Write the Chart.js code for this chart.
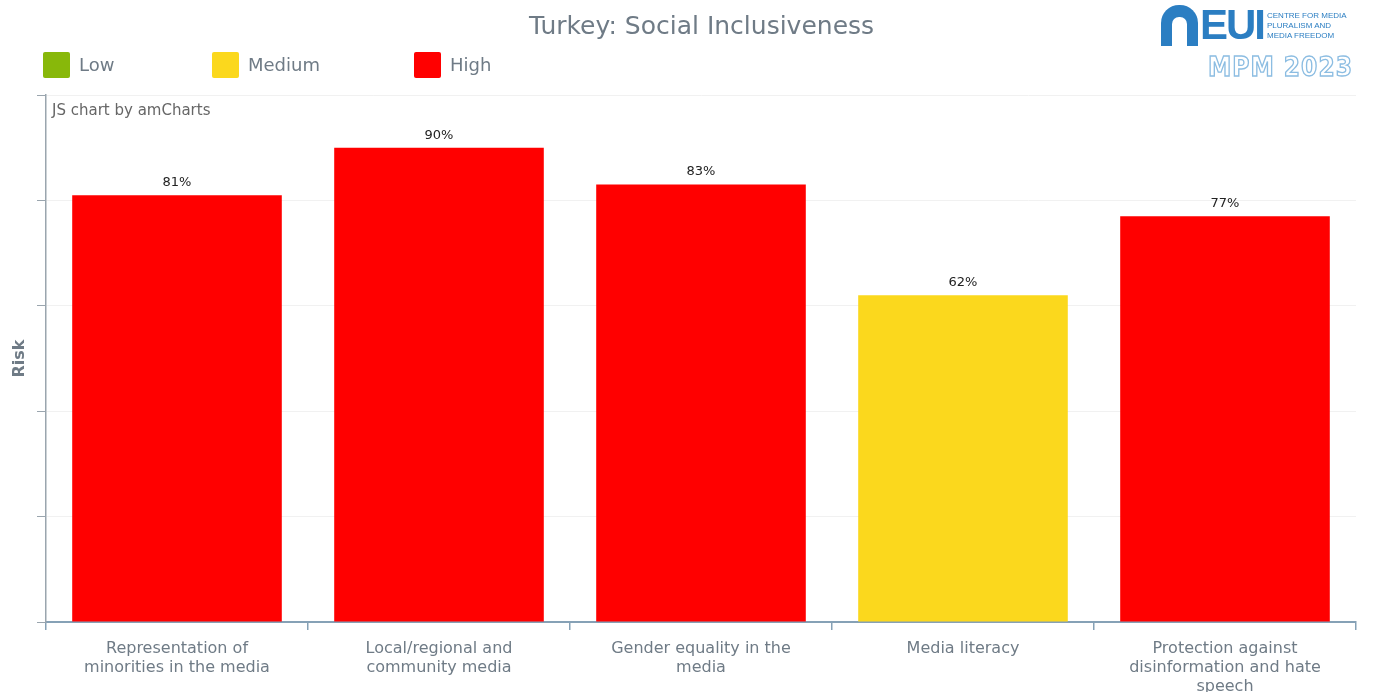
<!DOCTYPE html>
<html lang="en">
<head>
    <meta charset="UTF-8">
    <title>Turkey: Social Inclusiveness</title>
    <script src="https://cdn.jsdelivr.net/npm/chart.js"></script>
    <style>
        body {
            margin: 0;
            width: 1373px;
            height: 692px;
            background: #ffffff;
            font-family: "DejaVu Sans", Verdana, sans-serif;
            position: relative;
            overflow: hidden;
        }

        /* Title */
        .title {
            position: absolute;
            top: 11px;
            left: 0;
            width: 1403px;
            text-align: center;
            font-size: 25px;
            color: #6f7b86;
        }

        /* Legend */
        .legend {
            position: absolute;
            top: 52px;
            left: 43px;
        }
        .legend-item {
            position: absolute;
            top: 0;
            white-space: nowrap;
            font-size: 18px;
            color: #6f7b86;
            line-height: 26px;
        }
        .legend-item span.box {
            display: inline-block;
            width: 27px;
            height: 26px;
            border-radius: 2px;
            vertical-align: top;
            margin-right: 9px;
        }

        /* Logo */
        .logo { position: absolute; top: 0; left: 1158px; width: 215px; height: 90px; white-space: nowrap; }
        .arch {
            position: absolute; left: 3px; top: 5px;
            width: 37px; height: 41px;
            background: #2b7ec2;
            border-radius: 18px 18px 0 0;
        }
        .arch::after {
            content: ""; position: absolute; left: 11px; top: 12px;
            width: 15px; height: 29px; background: #fff;
            border-radius: 7px 7px 0 0;
        }
        .eui {
            position: absolute; left: 42px; top: 1px;
            font: bold 42px "Liberation Sans Narrow", "Liberation Sans", sans-serif;
            color: #2b7ec2; letter-spacing: -2px;
        }
        .cmpf {
            position: absolute; left: 109px; top: 11px;
            font: 8px "Liberation Sans Narrow", "Liberation Sans", sans-serif;
            color: #2b7ec2; line-height: 10px;
        }
        .mpm {
            position: absolute; left: 50px; top: 52px;
            font: bold 26px "DejaVu Sans Condensed", "DejaVu Sans", sans-serif;
            color: #ffffff;
            -webkit-text-stroke: 1.3px #8cbde2;
            letter-spacing: 1px;
        }

        .credit {
            position: absolute; left: 52px; top: 101px;
            font-size: 15px; color: #666;
        }

        .chart-container {
            position: absolute;
            left: 0; top: 0;
            width: 1373px; height: 692px;
        }
    </style>
</head>
<body>
    <div class="chart-container">
        <canvas id="riskChart" width="1373" height="692"></canvas>
    </div>

    <div class="title">Turkey: Social Inclusiveness</div>

    <div class="legend" id="legend"></div>

    <div class="logo">
        <div class="arch"></div>
        <div class="eui">EUI</div>
        <div class="cmpf">CENTRE FOR MEDIA<br>PLURALISM AND<br>MEDIA FREEDOM</div>
        <div class="mpm">MPM 2023</div>
    </div>

    <div class="credit">JS chart by amCharts</div>

    <script>
        const categories = [
            ["Representation of", "minorities in the media"],
            ["Local/regional and", "community media"],
            ["Gender equality in the", "media"],
            ["Media literacy"],
            ["Protection against", "disinformation and hate", "speech"]
        ];
        const riskValues = [81, 90, 83, 62, 77];
        const riskLevels = ["High", "High", "High", "Medium", "High"];

        const legendNames = ["Low", "Medium", "High"];
        const legendColors = ["#88b80a", "#fbd81d", "#ff0000"];
        const legendOffsets = [0, 169, 371];

        // legend boxes
        const legendEl = document.getElementById("legend");
        legendNames.forEach((name, i) => {
            const item = document.createElement("div");
            item.className = "legend-item";
            item.style.left = legendOffsets[i] + "px";
            item.innerHTML = `<span class="box" style="background:${legendColors[i]}"></span>${name}`;
            legendEl.appendChild(item);
        });

        const barColors = riskLevels.map(l => legendColors[legendNames.indexOf(l)]);

        // percent labels above each bar
        const valueLabels = {
            id: "valueLabels",
            afterDatasetsDraw(chart) {
                const ctx = chart.ctx;
                const meta = chart.getDatasetMeta(0);
                ctx.save();
                ctx.font = "13px 'DejaVu Sans', sans-serif";
                ctx.fillStyle = "#222";
                ctx.textAlign = "center";
                ctx.textBaseline = "bottom";
                meta.data.forEach((bar, i) => {
                    ctx.fillText(riskValues[i] + "%", bar.x, bar.y - 6);
                });
                ctx.restore();
            }
        };

        const ctx = document.getElementById("riskChart").getContext("2d");
        new Chart(ctx, {
            type: "bar",
            data: {
                labels: categories,
                datasets: [{
                    data: riskValues,
                    backgroundColor: barColors,
                    borderWidth: 0,
                    barPercentage: 0.8,
                    categoryPercentage: 1.0
                }]
            },
            options: {
                responsive: false,
                animation: false,
                devicePixelRatio: 1,
                layout: { padding: { left: 0, top: 95, right: 17, bottom: 0 } },
                plugins: {
                    legend: { display: false },
                    tooltip: { enabled: false }
                },
                scales: {
                    x: {
                        afterFit: s => { s.height = 70; },
                        border: { color: "#86a1b6", width: 2 },
                        grid: {
                            drawOnChartArea: false,
                            tickLength: 8,
                            color: "#86a1b6",
                            lineWidth: 1.5
                        },
                        ticks: {
                            color: "#6f7b86",
                            font: { family: "'DejaVu Sans', sans-serif", size: 16, lineHeight: 1.2 },
                            maxRotation: 0,
                            autoSkip: false,
                            padding: 9
                        }
                    },
                    y: {
                        min: 0,
                        max: 100,
                        afterFit: s => { s.width = 46; },
                        border: { color: "#9aa5ae", width: 1.5 },
                        grid: {
                            color: "#f1f1f1",
                            tickLength: 9,
                            tickColor: "#9aa5ae"
                        },
                        ticks: {
                            stepSize: 20,
                            display: false
                        },
                        title: {
                            display: true,
                            text: "Risk",
                            color: "#6f7b86",
                            font: { family: "'DejaVu Sans', sans-serif", size: 16, weight: "bold" },
                            padding: { top: 10, bottom: 0 }
                        }
                    }
                }
            },
            plugins: [valueLabels]
        });
    </script>
</body>
</html>
